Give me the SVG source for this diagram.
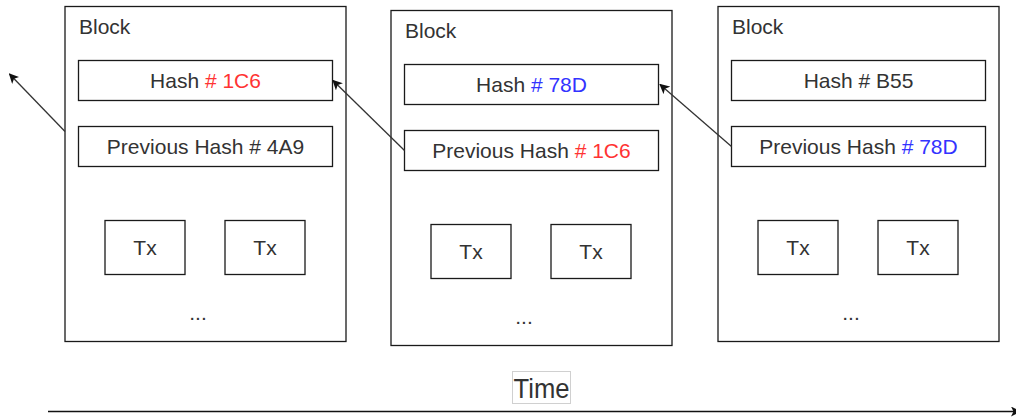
<svg xmlns="http://www.w3.org/2000/svg" width="1016" height="417" viewBox="0 0 1016 417">
  <style>
    .box { fill: #ffffff; stroke: #1a1a1a; stroke-width: 1.3; }
    .lbl { font-family: "Liberation Sans", Arial, sans-serif; font-size: 21px; fill: #333333; }
    .mid { text-anchor: middle; }
    .red { fill: #ff3333; }
    .blue { fill: #3333ff; }
    .link { fill: none; stroke: #333333; stroke-width: 1.3; }
  </style>
  <defs>
    <marker id="head" viewBox="0 0 10 10" refX="9" refY="5" markerWidth="10" markerHeight="10" markerUnits="userSpaceOnUse" orient="auto">
      <path d="M0,0 L10,5 L0,10 L2.5,5 Z" fill="#111111"/>
    </marker>
    <!-- one block: frame, hash fields, two transactions and an ellipsis -->
    <g id="blockFrame">
      <rect class="box" x="0" y="0" width="281" height="335"/>
      <text class="lbl" x="14" y="27">Block</text>
      <rect class="box" x="13.5" y="54" width="254" height="40"/>
      <rect class="box" x="13.5" y="120" width="254" height="40"/>
      <rect class="box" x="40" y="214" width="80" height="54"/>
      <rect class="box" x="160" y="214" width="80" height="54"/>
      <text class="lbl mid" x="80" y="248.5">Tx</text>
      <text class="lbl mid" x="200" y="248.5">Tx</text>
      <text class="lbl mid" x="133" y="313">...</text>
    </g>
  </defs>

  <g id="block-1" transform="translate(65,6.5)">
    <use href="#blockFrame"/>
    <text class="lbl mid" x="140.5" y="81.5">Hash <tspan class="red"># 1C6</tspan></text>
    <text class="lbl mid" x="140.5" y="147.5">Previous Hash # 4A9</text>
  </g>

  <g id="block-2" transform="translate(391,10.5)">
    <use href="#blockFrame"/>
    <text class="lbl mid" x="140.5" y="81.5">Hash <tspan class="blue"># 78D</tspan></text>
    <text class="lbl mid" x="140.5" y="147.5">Previous Hash <tspan class="red"># 1C6</tspan></text>
  </g>

  <g id="block-3" transform="translate(718,6.5)">
    <use href="#blockFrame"/>
    <text class="lbl mid" x="140.5" y="81.5">Hash # B55</text>
    <text class="lbl mid" x="140.5" y="147.5">Previous Hash <tspan class="blue"># 78D</tspan></text>
  </g>

  <g id="time-label">
    <rect x="512.5" y="371.5" width="58" height="32" fill="#ffffff" stroke="#d0d0d0" stroke-width="1"/>
    <text x="513.5" y="397.5" font-family="'Liberation Sans', Arial, sans-serif" font-size="28" fill="#333333" textLength="56" lengthAdjust="spacingAndGlyphs">Time</text>
  </g>

  <g id="connectors">
    <line class="link" x1="65" y1="131.5" x2="9.5" y2="74" marker-end="url(#head)"/>
    <line class="link" x1="404.5" y1="150.5" x2="333" y2="80.5" marker-end="url(#head)"/>
    <line class="link" x1="731.5" y1="146.5" x2="660" y2="84.5" marker-end="url(#head)"/>
    <line x1="48" y1="411.5" x2="1020" y2="411.5" stroke="#111111" stroke-width="1.5" marker-end="url(#head)"/>
  </g>
</svg>
